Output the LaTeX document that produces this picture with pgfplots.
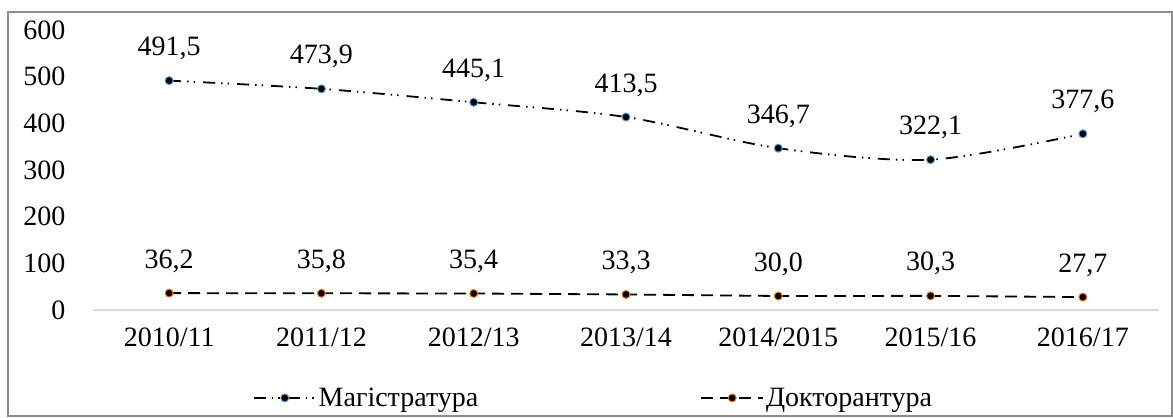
\documentclass[border=0pt]{standalone}
\usepackage{pgfplots}
\usepackage{pgfplotstable}
\pgfplotsset{compat=1.18}
\usepackage{fontspec}
\setmainfont{Liberation Serif}
\definecolor{mblue}{HTML}{5B9BD5}
\definecolor{morange}{HTML}{ED7D31}
\definecolor{frame}{HTML}{8C8C8C}
\definecolor{axgray}{HTML}{D9D9D9}

\pgfplotstableread{
x y lbl
0 491.5 491,5
1 473.9 473,9
2 445.1 445,1
3 413.5 413,5
4 346.7 346,7
5 322.1 322,1
6 377.6 377,6
}\magdata
\pgfplotstableread{
x y lbl
0 36.2 36,2
1 35.8 35,8
2 35.4 35,4
3 33.3 33,3
4 30.0 30,0
5 30.3 30,3
6 27.7 27,7
}\docdata

\begin{document}
\begin{tikzpicture}
\begin{axis}[
  name=ax,
  scale only axis,
  width=1066pt, height=280pt,
  xmin=-0.5, xmax=6.5, ymin=0, ymax=600,
  clip=false,
  axis x line=bottom,
  axis y line=left,
  x axis line style={draw=axgray, line width=1.5pt, -},
  y axis line style={draw=none, -},
  major tick length=0pt,
  xtick={0,...,6},
  xticklabels={2010/11,2011/12,2012/13,2013/14,2014/2015,2015/16,2016/17},
  ytick={0,100,...,600},
  yticklabel style={anchor=east, xshift=-24pt},
  xticklabel style={yshift=-14pt},
  ticklabel style={font=\fontsize{28}{34}\selectfont},
  /pgf/number format/assume math mode=true,
  point meta=explicit symbolic,
  nodes near coords,
  every node near coord/.append style={font=\fontsize{28}{34}\selectfont, anchor=base, yshift=25pt, text=black},
  legend columns=2,
  legend style={draw=none, fill=none, at={(axis description cs:0.147,-0.314)}, anchor=west,
    font=\fontsize{28}{34}\selectfont,
    /tikz/every even column/.append style={column sep=220pt}},
  legend cell align=left,
  legend image code/.code={\draw[mark repeat=2,mark phase=2,#1] plot coordinates {(0pt,0pt) (31pt,0pt) (62pt,0pt)};},
]
\addplot[black, line width=1.8pt, smooth, dash pattern=on 12pt off 6pt on 1.5pt off 5pt on 1.5pt off 8pt,
  mark=*, mark size=4pt, mark options={solid, fill=black, draw=mblue, line width=1pt}]
  table[x=x, y=y, meta=lbl] {\magdata};
\addlegendentry{Магістратура}
\addplot[black, line width=1.8pt, dash pattern=on 12pt off 7pt,
  mark=*, mark size=4pt, mark options={solid, fill=black, draw=morange, line width=1pt}]
  table[x=x, y=y, meta=lbl] {\docdata};
\addlegendentry{Докторантура}
\end{axis}
\draw[frame, line width=1.2pt] ([shift={(-85pt,-106pt)}]ax.south west) rectangle ([shift={(13pt,18pt)}]ax.north east);
\pgfresetboundingbox
\useasboundingbox ([shift={(-93pt,-107pt)}]ax.south west) rectangle ([shift={(14pt,30pt)}]ax.north east);
\end{tikzpicture}
\end{document}
